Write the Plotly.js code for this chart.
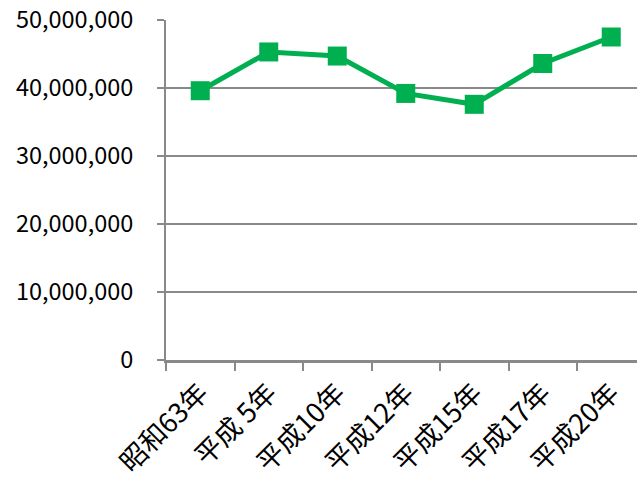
<!DOCTYPE html>
<html><head><meta charset="utf-8">
<script src="https://cdn.plot.ly/plotly-3.0.1.min.js"></script>
<style>html,body{margin:0;padding:0;background:#fff}#chart{width:637px;height:479px}</style>
</head><body><div id="chart"></div>
<script>
const categories = ["昭和63年","平成 5年","平成10年","平成12年","平成15年","平成17年","平成20年"];
const values = [39600000, 45300000, 44700000, 39200000, 37600000, 43600000, 47500000];
const yTicks = [0, 10000000, 20000000, 30000000, 40000000, 50000000];
const green = "#00AF50";
const gray = "#898989";
const trace = {
  x: categories, y: values, type: "scatter", mode: "lines+markers",
  line: {color: green, width: 5},
  marker: {symbol: "square", size: 19, color: green},
  cliponaxis: false, hoverinfo: "none"
};
const layout = {
  width: 637, height: 479,
  margin: {l: 166, r: 0, t: 20, b: 118.5, pad: 0},
  paper_bgcolor: "#fff", plot_bgcolor: "#fff",
  showlegend: false,
  font: {family: "'Noto Sans CJK JP', sans-serif", size: 22, color: "#000"},
  xaxis: {
    type: "category", range: [-0.5, 6.376],
    tickson: "boundaries", ticks: "outside", ticklen: 8, tickwidth: 2, tickcolor: gray,
    showline: true, linecolor: gray, linewidth: 2.5,
    showgrid: false, zeroline: false, tickangle: -45,
    ticklabelstandoff: 4,
    tickfont: {family: "'Noto Sans CJK JP', sans-serif", size: 27, color: "#000"}
  },
  yaxis: {
    range: [0, 50000000], tickvals: yTicks, tickformat: ",d",
    ticks: "outside", ticklen: 7, tickwidth: 2, tickcolor: gray,
    showline: true, linecolor: gray, linewidth: 2,
    showgrid: true, gridcolor: gray, gridwidth: 2, zeroline: false,
    ticklabelstandoff: 19,
    tickfont: {family: "'Noto Sans CJK JP', sans-serif", size: 23.5, color: "#000"}
  }
};
Plotly.newPlot("chart", [trace], layout, {staticPlot: true, displayModeBar: false});
</script></body></html>
